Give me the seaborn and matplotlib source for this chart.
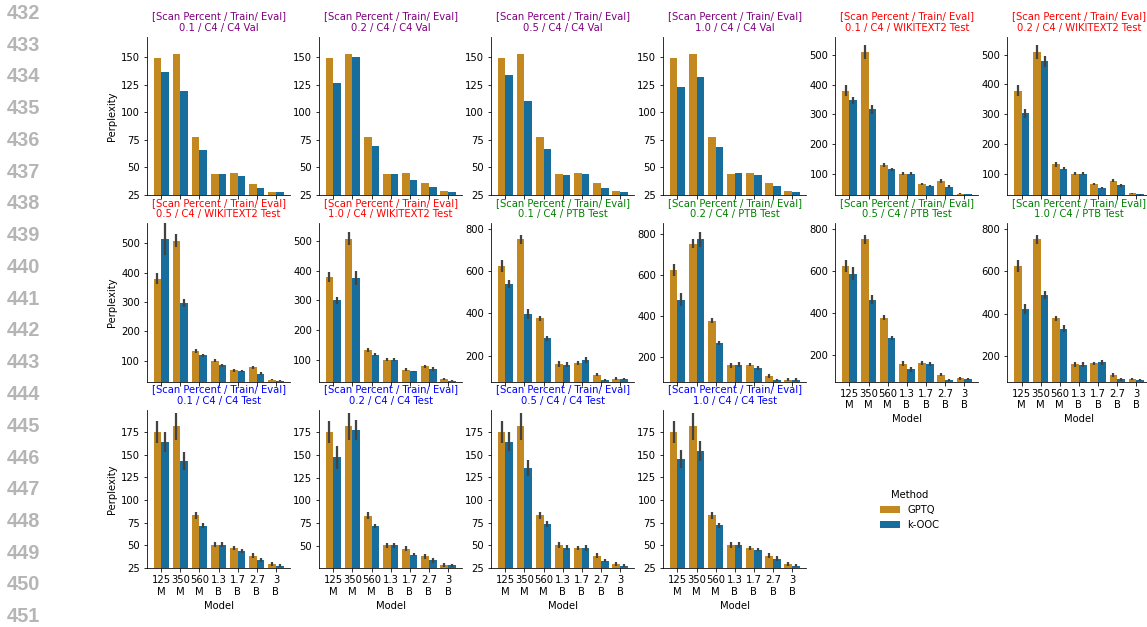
import numpy as np
import pandas as pd
import matplotlib
matplotlib.use("Agg")
import matplotlib.pyplot as plt
import seaborn as sns

# ---------------- data ----------------
models = ["125\nM", "350\nM", "560\nM", "1.3\nB", "1.7\nB", "2.7\nB", "3\nB"]
methods = ["GPTQ", "k-OOC"]
scan_percents = ["0.1", "0.2", "0.5", "1.0"]
evals = ["C4 Val", "WIKITEXT2 Test", "PTB Test", "C4 Test"]
eval_colors = ["purple", "red", "green", "blue"]

# GPTQ (independent of scan percent)
gptq_c4val = [148.8, 153.0, 77.5, 44.2, 45.0, 35.3, 28.0]
gptq_c4val_err = [0, 0, 0, 0, 0, 0, 0]
gptq_wiki = [379, 508, 132, 101, 67.5, 78, 35.5]
gptq_wiki_err = [18, 23, 7, 5, 4, 6, 2]
gptq_ptb = [624, 752, 378, 160, 164, 109, 91]
gptq_ptb_err = [28, 22, 12, 12, 9, 8, 6]
gptq_c4test = [175, 181, 83, 50.5, 47, 38.5, 29]
gptq_c4test_err = [12, 15, 4, 3, 2.5, 3, 2]

# k-OOC, one list per scan percent (0.1, 0.2, 0.5, 1.0)
kooc_c4val = [
    [136.7, 119.7, 65.9, 44.2, 42.0, 31.4, 27.7],
    [126.1, 149.7, 69.2, 43.8, 38.6, 32.0, 27.4],
    [133.4, 110.0, 66.5, 42.6, 43.8, 30.8, 27.4],
    [123.1, 131.5, 68.0, 44.4, 42.6, 32.9, 27.4],
]
kooc_c4val_err = [[0] * 7] * 4
kooc_wiki = [
    [347, 318, 116, 101, 60, 58, 34],
    [303, 478, 118, 101, 54, 63, 33],
    [515, 297, 119, 85, 65, 57, 33],
    [301, 375, 118, 101, 61, 69, 30],
]
kooc_wiki_err = [
    [12, 15, 6, 5, 4, 5, 1.5],
    [15, 18, 5, 5, 4, 5, 1.5],
    [57, 14, 5, 5, 4, 5, 2],
    [12, 23, 6, 5, 3, 6, 1.5],
]
kooc_ptb = [
    [539, 399, 281, 157, 181, 85, 87],
    [479, 772, 268, 163, 148, 91, 91],
    [589, 465, 284, 133, 160, 84, 87],
    [424, 489, 329, 159, 170, 89, 87],
]
kooc_ptb_err = [
    [20, 24, 12, 12, 14, 5, 5],
    [32, 38, 10, 12, 8, 5, 6],
    [30, 20, 10, 10, 10, 4, 5],
    [24, 20, 17, 12, 12, 6, 5],
]
kooc_c4test = [
    [164.3, 143.2, 71.5, 50.5, 43.5, 33.9, 27.5],
    [147.0, 177.0, 72.0, 50.5, 40.2, 34.2, 28.5],
    [164.3, 135.5, 73.4, 47.5, 47.2, 33.1, 27.6],
    [144.7, 153.6, 72.0, 50.5, 45.3, 35.3, 27.6],
]
kooc_c4test_err = [
    [11, 10, 3, 3, 2.5, 2, 1.5],
    [12.5, 11, 2.5, 3, 1.5, 2.5, 1.5],
    [10.5, 9, 3, 3, 3, 2, 1.5],
    [10, 11, 3, 3, 2, 3, 1.5],
]

line_numbers = list(range(432, 452))

gptq_all = [(gptq_c4val, gptq_c4val_err), (gptq_wiki, gptq_wiki_err),
            (gptq_ptb, gptq_ptb_err), (gptq_c4test, gptq_c4test_err)]
kooc_all = [(kooc_c4val, kooc_c4val_err), (kooc_wiki, kooc_wiki_err),
            (kooc_ptb, kooc_ptb_err), (kooc_c4test, kooc_c4test_err)]

rows = []
panels, panel_colors = [], []
for e_i, ev in enumerate(evals):
    for s_i, sp in enumerate(scan_percents):
        panel = f"[Scan Percent / Train/ Eval]\n{sp} / C4 / {ev}"
        panels.append(panel)
        panel_colors.append(eval_colors[e_i])
        g_vals, g_err = gptq_all[e_i]
        k_vals, k_err = kooc_all[e_i]
        for m_i, mdl in enumerate(models):
            rows.append(dict(Panel=panel, Model=mdl, Method="GPTQ",
                             Perplexity=g_vals[m_i], Err=g_err[m_i]))
            rows.append(dict(Panel=panel, Model=mdl, Method="k-OOC",
                             Perplexity=k_vals[s_i][m_i], Err=k_err[s_i][m_i]))
df = pd.DataFrame(rows)

# ---------------- plot ----------------
W, H, DPI = 1147, 627, 72
cb = sns.color_palette("colorblind")
pal = {"GPTQ": cb[1], "k-OOC": cb[0]}

g = sns.catplot(data=df, kind="bar", x="Model", y="Perplexity", hue="Method",
                col="Panel", col_wrap=6, col_order=panels, order=models,
                hue_order=methods, palette=pal, errorbar=None, sharey=False,
                height=2.2, aspect=0.9)
fig = g.figure
fig.set_size_inches(W / DPI, H / DPI)
g.set_axis_labels("Model", "Perplexity")

for ax, panel, col in zip(g.axes.flat, panels, panel_colors):
    ax.set_title(panel, color=col, fontsize=10)
    sub = df[df.Panel == panel]
    ax.set_ylim(0.9 * sub.Perplexity.min(), 1.1 * sub.Perplexity.max())
    for cont, meth in zip(ax.containers, methods):
        s = sub[sub.Method == meth].set_index("Model").loc[models]
        for bar, (val, err) in zip(cont, zip(s.Perplexity, s.Err)):
            if err > 0:
                xc = bar.get_x() + bar.get_width() / 2
                ax.vlines(xc, val - err, val + err, color=".26", lw=2.25, zorder=3)

fig.subplots_adjust(left=0.1282, right=1.003, bottom=0.094, top=0.941,
                    wspace=0.203, hspace=0.18)

sns.move_legend(g, "center", bbox_to_anchor=(0.793, 0.187), frameon=False)

for i, n in enumerate(line_numbers):
    fig.text(7 / W, 1 - (13.5 + i * 31.75) / H, str(n), ha="left", va="center",
             fontsize=20, color="#b5b5b5", fontweight="bold",
             family="Liberation Sans")

fig.savefig("out.png", dpi=DPI)
